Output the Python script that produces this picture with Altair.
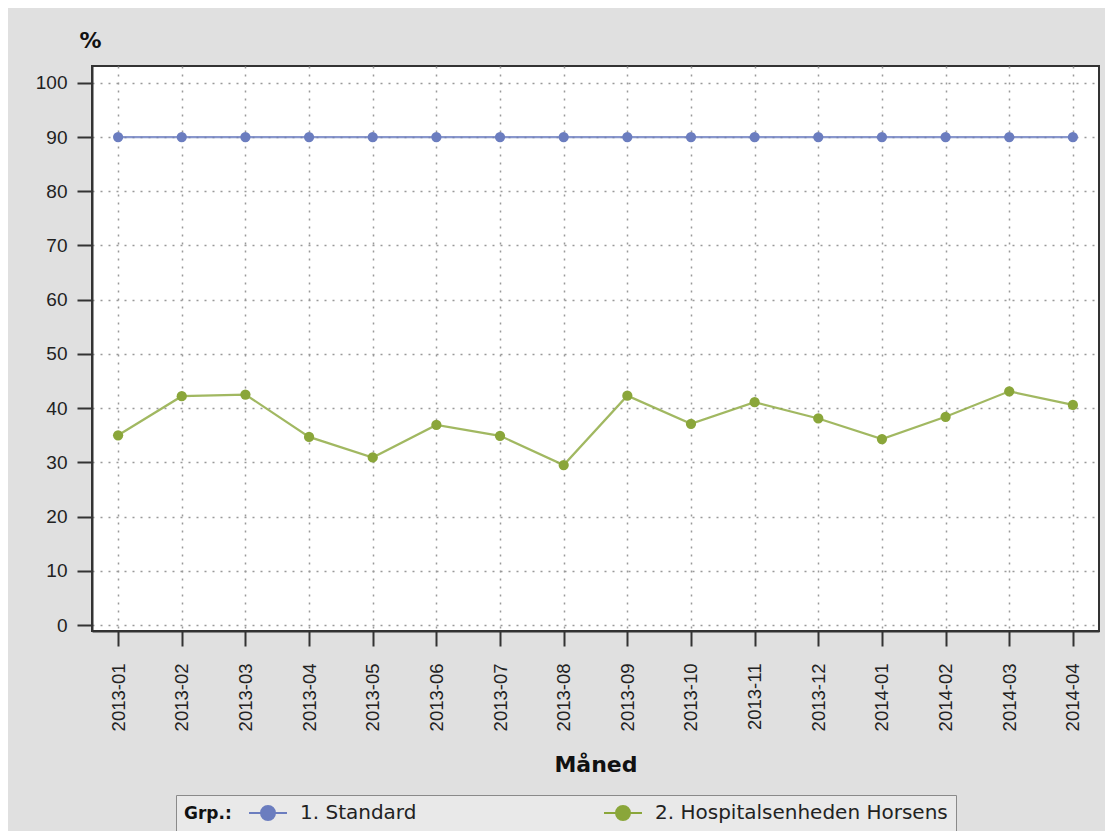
import altair as alt
import pandas as pd

months = ["2013-01", "2013-02", "2013-03", "2013-04", "2013-05", "2013-06",
          "2013-07", "2013-08", "2013-09", "2013-10", "2013-11", "2013-12",
          "2014-01", "2014-02", "2014-03", "2014-04"]
standard = [90, 90, 90, 90, 90, 90, 90, 90, 90, 90, 90, 90, 90, 90, 90, 90]
horsens = [35.0, 42.2, 42.5, 34.7, 30.9, 36.9, 34.9, 29.5,
           42.3, 37.1, 41.1, 38.1, 34.3, 38.4, 43.1, 40.6]
groups = ["1. Standard", "2. Hospitalsenheden Horsens"]
colors = ["#6b7dbf", "#8aa63a"]
y_ticks = [0, 10, 20, 30, 40, 50, 60, 70, 80, 90, 100]

rows = []
for m, s, h in zip(months, standard, horsens):
    rows.append({"Måned": m, "Grp": groups[0], "pct": s})
    rows.append({"Måned": m, "Grp": groups[1], "pct": h})
df = pd.DataFrame(rows)

sym_path = "M-2.71,0H2.71M-1,0A1,1,0,1,1,1,0A1,1,0,1,1,-1,0Z"

legend = alt.Legend(
    title="Grp.:", orient="none", legendX=84, legendY=729,
    direction="horizontal", columns=2, titleOrient="left",
    titleFont="DejaVu Sans", titleFontSize=17, titleFontWeight="bold",
    titleColor="#111111", titlePadding=26, titleBaseline="middle",
    labelFont="DejaVu Sans", labelFontSize=20, labelColor="#222222",
    labelOffset=22, columnPadding=183, labelLimit=0,
    symbolType=sym_path, symbolSize=196, symbolStrokeWidth=2,
    symbolOpacity=1,
    padding=8, fillColor="#e9e9e9", strokeColor="#8a8a8a",
)

x = alt.X("Måned:O", sort=months,
          scale=alt.Scale(type="point", padding=0.41),
          axis=alt.Axis(title="Måned", labelAngle=270, titlePadding=24,
                        labelPadding=17, labelFontSize=18.5,
                        titleFont="DejaVu Sans", titleFontSize=22,
                        titleFontWeight="bold", titleColor="#111111"))
y = alt.Y("pct:Q", scale=alt.Scale(domain=[-1.1, 103.1], nice=False, zero=False),
          axis=alt.Axis(title="%", values=y_ticks, titleAngle=0,
                        titleX=-2, titleY=-19, titleAlign="center",
                        titleBaseline="alphabetic",
                        titleFont="DejaVu Sans", titleFontSize=22,
                        titleFontWeight="bold", titleColor="#111111"))
color = alt.Color("Grp:N", scale=alt.Scale(domain=groups, range=colors),
                  legend=legend)

base = alt.Chart(df).encode(x=x, y=y, color=color)
lines = base.mark_line(strokeWidth=2.2, opacity=0.8)
points = base.mark_point(filled=True, size=105, opacity=1)

chart = alt.layer(lines, points).properties(
    width=1007, height=565,
    autosize=alt.AutoSizeParams(type="none"),
    padding={"left": 84, "top": 58, "right": 6, "bottom": 200},
    background="#e0e0e0",
).configure_view(
    fill="white", stroke="#333333", strokeWidth=2
).configure_axis(
    domainColor="#333333", domainWidth=2,
    tickColor="#333333", tickWidth=2, tickSize=15,
    labelFont="Liberation Sans", labelFontSize=19, labelColor="#222222",
    labelPadding=10,
    grid=True, gridColor="#999999", gridDash=[2, 6], gridWidth=1.5,
)

chart.save("out.html", embed_options={"renderer": "svg", "actions": False})
